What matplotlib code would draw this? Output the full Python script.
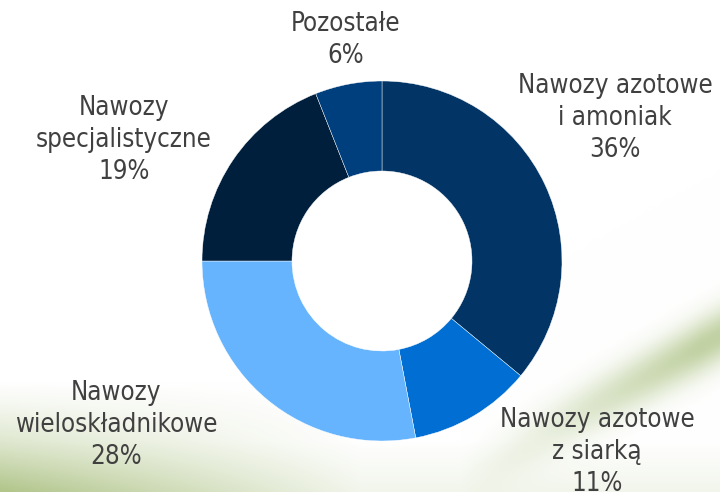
import numpy as np
import matplotlib.pyplot as plt

# shares of fertilizer groups, clockwise from 12 o'clock
labels = ['Nawozy azotowe\ni amoniak', 'Nawozy azotowe\nz siarką',
          'Nawozy\nwieloskładnikowe', 'Nawozy\nspecjalistyczne', 'Pozostałe']
values = [36, 11, 28, 19, 6]
colors = ['#023566', '#006ed2', '#66b4fe', '#001f3d', '#003f7e']

# label anchor points (pixels, origin bottom-left)
label_pos = [(615, 374), (597, 40), (116, 67), (124, 352), (346, 452)]

W, H = 720, 492
fig = plt.figure(figsize=(W / 100, H / 100), dpi=100)

# soft green background swoosh
bg = fig.add_axes([0, 0, 1, 1], zorder=0)
yy, xx = np.mgrid[0:H, 0:W].astype(float)
green = np.array([178, 198, 140]) / 255.0
a = np.clip((yy - 380) / 110.0, 0, 1) ** 1.2 * np.clip(1 - xx / 360.0, 0, 1) * 0.85
# diagonal streak on the right
d = ((yy - 335) - (720 - xx) * 0.55) / 1.15
streak = np.exp(-(d / 24.0) ** 2) * np.clip((xx - 460) / 240.0, 0, 1) * 0.8
a = np.clip(a + streak, 0, 1)
a += np.clip((yy - 440) / 55.0, 0, 1) * 0.18
a = np.clip(a, 0, 1)
img = np.ones((H, W, 3)) * (1 - a[..., None]) + green * a[..., None]
bg.imshow(img, extent=[0, W, 0, H], origin='upper', aspect='auto')
bg.set_axis_off()

ax = fig.add_axes([0, 0, 1, 1], zorder=1)
ax.patch.set_alpha(0)
ax.pie(values, colors=colors, startangle=90, counterclock=False,
       center=(382, 231), radius=180,
       wedgeprops=dict(width=90, edgecolor='white', linewidth=0.3))
ax.set_xlim(0, W)
ax.set_ylim(0, H)
ax.set_aspect('auto')
ax.set_axis_off()

for lab, v, (x, y) in zip(labels, values, label_pos):
    ax.text(x, y, f'{lab}\n{v}%', ha='center', va='center', fontsize=18.5,
            color='#404040', family='DejaVu Sans', stretch='condensed',
            linespacing=1.28)

fig.savefig('out.png', dpi=100)
